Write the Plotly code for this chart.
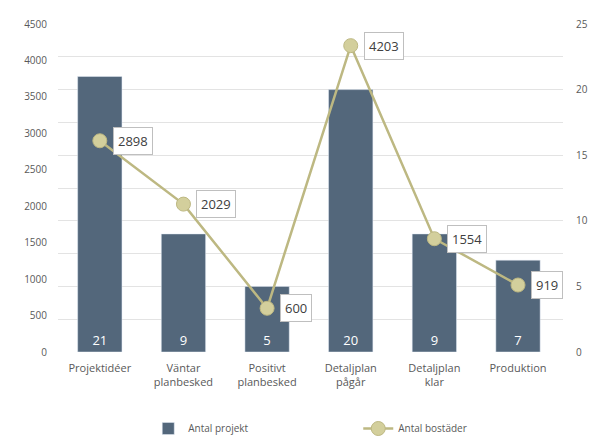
import plotly.graph_objects as go

categories = ["Projektidéer", "Väntar<br>planbesked", "Positivt<br>planbesked",
              "Detaljplan<br>pågår", "Detaljplan<br>klar", "Produktion"]
antal_projekt = [21, 9, 5, 20, 9, 7]
antal_bostader = [2898, 2029, 600, 4203, 1554, 919]

bar_color = "#53677b"
line_color = "#bdb882"
marker_color = "#d3cf9c"
grid_color = "#e3e3e3"
font_fam = "Open Sans, Liberation Sans, sans-serif"

fig = go.Figure()
fig.add_trace(go.Bar(
    x=categories, y=antal_projekt, name="Antal projekt", yaxis="y",
    marker=dict(color=bar_color), width=0.53,
    text=[str(v) for v in antal_projekt], textposition="inside",
    insidetextanchor="start", textfont=dict(color="white", size=13, family=font_fam),
))
fig.add_trace(go.Scatter(
    x=categories, y=antal_bostader, name="Antal bostäder", yaxis="y2",
    mode="lines+markers", line=dict(color=line_color, width=2.5),
    marker=dict(color=marker_color, size=14, line=dict(color=line_color, width=1)),
))

for c, v in zip(categories, antal_bostader):
    fig.add_annotation(
        x=c, y=v, xref="x", yref="y2", text=str(v), showarrow=False,
        xanchor="left", yanchor="middle", xshift=13,
        bgcolor="white", bordercolor="#bfbfbf", borderwidth=1, borderpad=4,
        font=dict(size=13, color="#404040", family=font_fam),
    )

fig.update_layout(
    width=593, height=443,
    margin=dict(l=58, r=30, t=24, b=91, autoexpand=False),
    plot_bgcolor="white", paper_bgcolor="white",
    font=dict(family=font_fam, size=11, color="#595959"),
    xaxis=dict(showgrid=False, showline=False, ticks="", ticklabelstandoff=8,
               tickfont=dict(size=11, color="#595959")),
    yaxis=dict(range=[0, 25], dtick=5, side="right", showgrid=True,
               gridcolor=grid_color, gridwidth=1, zeroline=False, showline=False,
               ticks="", ticklabelstandoff=12, tickfont=dict(size=10, color="#595959"),
               minor=dict(dtick=2.5, showgrid=True, gridcolor=grid_color, gridwidth=1)),
    yaxis2=dict(range=[0, 4500], dtick=500, overlaying="y", side="left",
                showgrid=False, zeroline=False, showline=False, ticks="",
                ticklabelstandoff=10, tickfont=dict(size=10, color="#595959")),
    legend=dict(orientation="h", x=0.25, xanchor="left", xref="container",
                y=0.0, yanchor="bottom", yref="container", itemwidth=30,
                entrywidth=165, entrywidthmode="pixels",
                font=dict(size=10, color="#595959"), traceorder="normal"),
    showlegend=True,
)

fig.write_html("out.html")
